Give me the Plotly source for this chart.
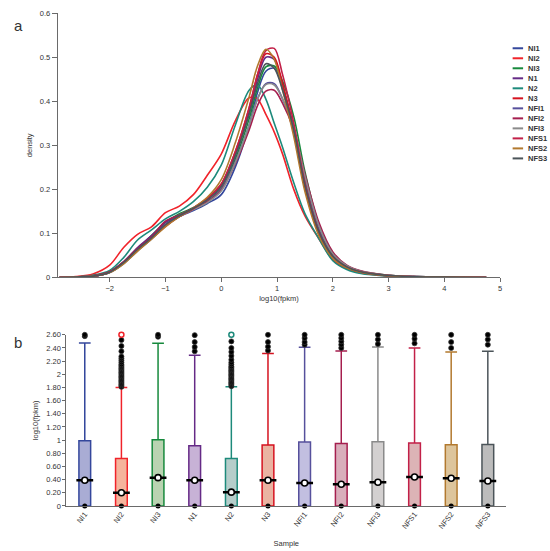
import plotly.graph_objects as go

# samples shared by both panels
samples = ["NI1", "NI2", "NI3", "N1", "N2", "N3",
           "NFI1", "NFI2", "NFI3", "NFS1", "NFS2", "NFS3"]
line_colors = ["#34479c", "#f0232a", "#16893c", "#652a86", "#1d8a7b", "#d5121f",
               "#56509c", "#a51e4e", "#8a8a8a", "#c22048", "#b2792e", "#4b5459"]
fill_colors = ["#a9acd4", "#f5b49c", "#b9d3b1", "#c7b2d6", "#b5cdca", "#eab3a2",
               "#c2bfe0", "#d9aebb", "#d3d0d0", "#dcb3b6", "#ddc59c", "#bcbcbc"]

# panel a: density of log10(fpkm)
log_fpkm = [-2.9, -2.6, -2.3, -2.0, -1.75, -1.5, -1.25, -1.0, -0.75, -0.5, -0.25,
            0.0, 0.25, 0.5, 0.65, 0.8, 0.95, 1.1, 1.3, 1.5, 1.75, 2.0, 2.25, 2.5,
            3.0, 3.5, 4.0, 4.75]
dens_NI1 = [0, 0.001, 0.003, 0.011, 0.032, 0.062, 0.088, 0.118, 0.138, 0.152, 0.168, 0.188, 0.25, 0.345,
            0.42, 0.468, 0.475, 0.43, 0.34, 0.215, 0.105, 0.048, 0.024, 0.013, 0.004, 0.0015, 0.0007, 0]
dens_NI2 = [0, 0.002, 0.008, 0.028, 0.068, 0.098, 0.115, 0.147, 0.162, 0.188, 0.232, 0.28, 0.355, 0.408,
            0.405, 0.37, 0.33, 0.28, 0.2, 0.14, 0.088, 0.04, 0.02, 0.01, 0.003, 0.001, 0.0005, 0]
dens_NI3 = [0, 0.001, 0.003, 0.012, 0.034, 0.066, 0.095, 0.125, 0.145, 0.158, 0.172, 0.2, 0.268, 0.36,
            0.43, 0.478, 0.48, 0.445, 0.365, 0.24, 0.12, 0.055, 0.026, 0.014, 0.005, 0.002, 0.0008, 0]
dens_N1 = [0, 0.001, 0.004, 0.013, 0.036, 0.068, 0.095, 0.125, 0.14, 0.158, 0.178, 0.21, 0.28, 0.375,
           0.45, 0.5, 0.495, 0.435, 0.335, 0.205, 0.1, 0.046, 0.023, 0.012, 0.004, 0.0015, 0.0007, 0]
dens_N2 = [0, 0.001, 0.005, 0.016, 0.045, 0.085, 0.108, 0.133, 0.15, 0.172, 0.205, 0.255, 0.345, 0.425,
           0.437, 0.405, 0.35, 0.295, 0.215, 0.145, 0.088, 0.038, 0.018, 0.009, 0.003, 0.001, 0.0005, 0]
dens_N3 = [0, 0.001, 0.004, 0.013, 0.035, 0.065, 0.09, 0.118, 0.14, 0.158, 0.18, 0.212, 0.285, 0.385,
           0.46, 0.508, 0.5, 0.44, 0.335, 0.205, 0.1, 0.046, 0.023, 0.012, 0.004, 0.0015, 0.0007, 0]
dens_NFI1 = [0, 0.001, 0.003, 0.012, 0.033, 0.063, 0.09, 0.12, 0.14, 0.156, 0.172, 0.2, 0.262, 0.345,
             0.405, 0.44, 0.44, 0.405, 0.335, 0.22, 0.11, 0.05, 0.025, 0.013, 0.0045, 0.0018, 0.0008, 0]
dens_NFI2 = [0, 0.001, 0.003, 0.012, 0.034, 0.065, 0.092, 0.128, 0.142, 0.156, 0.172, 0.198, 0.258, 0.335,
             0.39, 0.423, 0.425, 0.395, 0.335, 0.235, 0.125, 0.058, 0.028, 0.015, 0.005, 0.002, 0.0009, 0]
dens_NFI3 = [0, 0.001, 0.003, 0.011, 0.031, 0.06, 0.087, 0.117, 0.138, 0.154, 0.17, 0.196, 0.26, 0.345,
             0.405, 0.438, 0.437, 0.405, 0.34, 0.23, 0.118, 0.054, 0.027, 0.014, 0.005, 0.002, 0.0008, 0]
dens_NFS1 = [0, 0.001, 0.003, 0.012, 0.033, 0.062, 0.088, 0.116, 0.138, 0.156, 0.178, 0.212, 0.285, 0.385,
             0.46, 0.515, 0.52, 0.46, 0.35, 0.215, 0.105, 0.048, 0.024, 0.013, 0.0045, 0.0017, 0.0008, 0]
dens_NFS2 = [0, 0.001, 0.003, 0.011, 0.031, 0.06, 0.087, 0.115, 0.138, 0.158, 0.182, 0.222, 0.305, 0.41,
             0.48, 0.518, 0.495, 0.425, 0.32, 0.195, 0.095, 0.044, 0.022, 0.012, 0.004, 0.0015, 0.0007, 0]
dens_NFS3 = [0, 0.001, 0.003, 0.012, 0.034, 0.064, 0.09, 0.12, 0.14, 0.157, 0.176, 0.206, 0.275, 0.37,
             0.44, 0.485, 0.475, 0.425, 0.335, 0.21, 0.104, 0.048, 0.024, 0.013, 0.0045, 0.0017, 0.0008, 0]
densities = [dens_NI1, dens_NI2, dens_NI3, dens_N1, dens_N2, dens_N3,
             dens_NFI1, dens_NFI2, dens_NFI3, dens_NFS1, dens_NFS2, dens_NFS3]

# panel b: box statistics of log10(fpkm)
q1 = [0, 0, 0, 0, 0, 0, 0, 0, 0, 0, 0, 0]
medians = [0.39, 0.20, 0.43, 0.39, 0.21, 0.39, 0.35, 0.33, 0.36, 0.44, 0.42, 0.38]
q3 = [0.99, 0.72, 1.006, 0.916, 0.72, 0.927, 0.97, 0.95, 0.976, 0.956, 0.93, 0.935]
lower_whisker = [0, 0, 0, 0, 0, 0, 0, 0, 0, 0, 0, 0]
upper_whisker = [2.475, 1.80, 2.47, 2.29, 1.81, 2.317, 2.41, 2.355, 2.415, 2.40, 2.34, 2.35]
outliers = {
    "NI1": [2.58, 2.60],
    "NI2": [1.81, 1.83, 1.85, 1.87, 1.89, 1.91, 1.93, 1.95, 1.97, 1.99, 2.01, 2.03, 2.05, 2.07,
            2.09, 2.11, 2.13, 2.15, 2.18, 2.21, 2.24, 2.27, 2.35, 2.43, 2.52],
    "NI3": [2.57, 2.60],
    "N1": [2.35, 2.415, 2.49, 2.595],
    "N2": [1.82, 1.84, 1.86, 1.88, 1.90, 1.92, 1.94, 1.96, 1.98, 2.00, 2.02, 2.04, 2.06, 2.08,
           2.10, 2.12, 2.15, 2.18, 2.22, 2.28, 2.34, 2.40, 2.50],
    "N3": [2.36, 2.42, 2.49, 2.60],
    "NFI1": [2.45, 2.49, 2.55, 2.60],
    "NFI2": [2.40, 2.45, 2.50, 2.55, 2.60],
    "NFI3": [2.46, 2.53, 2.60],
    "NFS1": [2.47, 2.54, 2.60],
    "NFS2": [2.40, 2.49, 2.60],
    "NFS3": [2.45, 2.53, 2.60],
}
open_max = {"NI2": 2.60, "N2": 2.60}

W, H = 550, 551
TXT = "#333333"

fig = go.Figure()

# density lines
for name, col, dens in zip(samples, line_colors, densities):
    fig.add_trace(go.Scatter(
        x=log_fpkm, y=dens, mode="lines", name=name,
        line=dict(color=col, width=1.6, shape="spline", smoothing=0.9),
        xaxis="x", yaxis="y", showlegend=False))

# boxes
for i, name in enumerate(samples):
    fig.add_trace(go.Box(
        x=[name], q1=[q1[i]], median=[medians[i]], q3=[q3[i]],
        lowerfence=[lower_whisker[i]], upperfence=[upper_whisker[i]],
        width=0.32, whiskerwidth=1, boxpoints=False,
        fillcolor=fill_colors[i], line=dict(color=line_colors[i], width=1.5),
        xaxis="x2", yaxis="y2", showlegend=False, hoverinfo="skip"))

# outliers
out_x, out_y = [], []
for name in samples:
    for v in outliers[name]:
        out_x.append(name)
        out_y.append(v)
fig.add_trace(go.Scatter(
    x=out_x, y=out_y, mode="markers", cliponaxis=False,
    marker=dict(size=5, color="black", line=dict(color="#333", width=0.8)),
    xaxis="x2", yaxis="y2", showlegend=False))

# open circle at the max for NI2 / N2
for name, v in open_max.items():
    col = line_colors[samples.index(name)]
    fig.add_trace(go.Scatter(
        x=[name], y=[v], mode="markers", cliponaxis=False,
        marker=dict(size=5, color="white", line=dict(color=col, width=1.5)),
        xaxis="x2", yaxis="y2", showlegend=False))

# minimum dot at 0
fig.add_trace(go.Scatter(
    x=samples, y=lower_whisker, mode="markers", cliponaxis=False,
    marker=dict(size=5, color="black"),
    xaxis="x2", yaxis="y2", showlegend=False))

# median bar + white dot
fig.add_trace(go.Scatter(
    x=samples, y=medians, mode="markers",
    marker=dict(symbol="line-ew", size=12, line=dict(color="black", width=2.5)),
    xaxis="x2", yaxis="y2", showlegend=False))
fig.add_trace(go.Scatter(
    x=samples, y=medians, mode="markers",
    marker=dict(size=6, color="white", line=dict(color="black", width=1.6)),
    xaxis="x2", yaxis="y2", showlegend=False))

axis_common = dict(showline=True, linecolor="#6a6a6a", linewidth=1, showgrid=False,
                   zeroline=False, tickcolor="#6a6a6a",
                   tickfont=dict(size=7.5, color=TXT))
title_font = dict(size=7.5, color=TXT)

fig.update_layout(
    width=W, height=H,
    margin=dict(l=0, r=0, t=0, b=0),
    paper_bgcolor="white", plot_bgcolor="white",
    showlegend=False,
    font=dict(family="Liberation Sans, Arial, sans-serif", size=8, color=TXT),
    xaxis=dict(domain=[58 / W, 502 / W], range=[-2.93, 5], anchor="y",
               tickvals=[-2, -1, 0, 1, 2, 3, 4, 5], ticks="outside", ticklen=4,
               title=dict(text="log10(fpkm)", font=title_font, standoff=3),
               **axis_common),
    yaxis=dict(domain=[1 - 278 / H, 1 - 9.3 / H], range=[0, 0.6], anchor="x",
               dtick=0.1, ticks="outside", ticklen=5,
               title=dict(text="density", font=title_font, standoff=6),
               **axis_common),
    xaxis2=dict(domain=[66.7 / W, 508 / W], range=[-0.5, 11.5], anchor="y2",
                type="category", categoryorder="array", categoryarray=samples,
                tickangle=-52, ticks="",
                title=dict(text="Sample", font=title_font, standoff=10),
                **axis_common),
    yaxis2=dict(domain=[1 - 510.3 / H, 1 - 336.3 / H], range=[0, 2.6], anchor="x2",
                tickvals=[0, 0.2, 0.4, 0.6, 0.8, 1, 1.2, 1.4, 1.6, 1.8, 2, 2.2, 2.4, 2.6],
                ticktext=["0", "0.20", "0.40", "0.60", "0.80", "1", "1.20", "1.40",
                          "1.60", "1.80", "2", "2.20", "2.40", "2.60"],
                ticks="outside", ticklen=3,
                title=dict(text="log10(fpkm)", font=title_font, standoff=6),
                **axis_common),
)

# panel letters
fig.add_annotation(text="a", x=12 / W, y=1 - 11 / H, xref="paper", yref="paper",
                   showarrow=False, font=dict(size=15, color=TXT))
fig.add_annotation(text="b", x=12 / W, y=1 - 344 / H, xref="paper", yref="paper",
                   showarrow=False, font=dict(size=15, color=TXT))

# hand-made legend with short line swatches
for i, (name, col) in enumerate(zip(samples, line_colors)):
    yy = 1 - (45 + i * 10.18) / H
    fig.add_shape(type="line", xref="paper", yref="paper",
                  x0=514.5 / W, x1=525 / W, y0=yy, y1=yy,
                  line=dict(color=col, width=2))
    fig.add_annotation(text="<b>%s</b>" % name, x=527.5 / W, y=yy,
                       xref="paper", yref="paper", xanchor="left", yanchor="middle",
                       showarrow=False, font=dict(size=7.5, color=TXT))

# drop the default 8px page margin so the 550x551 figure fills the window
fig.write_html("out.html", config={"displayModeBar": False},
               post_script="document.body.style.margin='0px';")
